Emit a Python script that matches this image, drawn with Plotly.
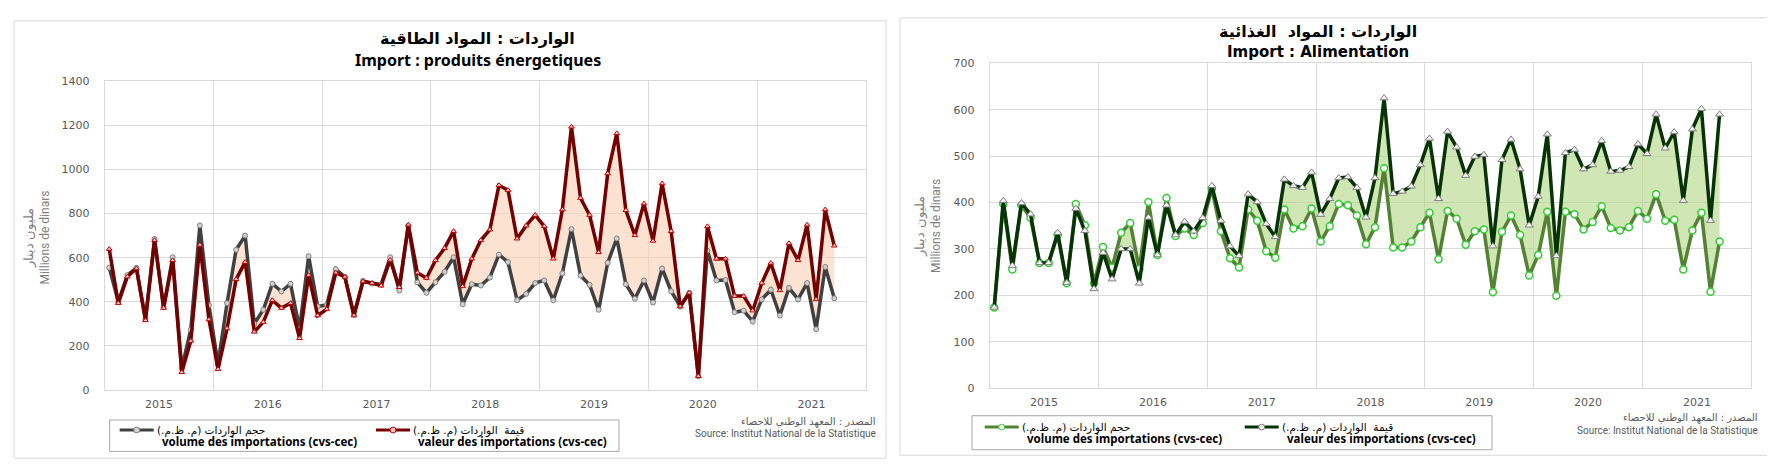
import plotly.graph_objects as go

W, H = 1775, 464

# ---------------- data ----------------
years = ["2015", "2016", "2017", "2018", "2019", "2020", "2021"]
months = list(range(81))

energy_valeur = [639, 394, 514, 551, 316, 679, 372, 588, 81, 223, 658, 320, 95, 279, 502, 580,
                 264, 308, 407, 372, 394, 235, 521, 338, 367, 532, 513, 338, 492, 485, 473, 590,
                 466, 749, 532, 508, 588, 643, 720, 470, 595, 679, 727, 928, 906, 686, 745, 793,
                 742, 595, 818, 1193, 870, 793, 624, 981, 1163, 815, 701, 845, 676, 936, 720, 379,
                 441, 63, 742, 595, 595, 426, 426, 360, 485, 576, 452, 665, 588, 749, 411, 818, 654]
energy_volume = [555, 400, 521, 554, 323, 685, 375, 602, 100, 275, 746, 385, 118, 394, 636, 700,
                 301, 364, 482, 447, 482, 279, 607, 379, 386, 548, 513, 341, 495, 483, 480, 602,
                 451, 745, 488, 441, 489, 536, 602, 389, 480, 474, 510, 614, 580, 408, 436, 485,
                 497, 407, 529, 730, 519, 477, 364, 577, 687, 480, 414, 497, 397, 551, 448, 379,
                 441, 63, 632, 497, 499, 353, 360, 311, 411, 455, 338, 463, 411, 485, 276, 558, 416]
food_valeur = [174, 404, 264, 399, 375, 270, 270, 335, 227, 387, 339, 214, 292, 235, 300, 300,
               226, 368, 287, 394, 330, 359, 338, 367, 436, 361, 306, 285, 418, 401, 354, 326,
               450, 436, 432, 465, 374, 408, 453, 455, 432, 368, 453, 625, 419, 424, 435, 481,
               538, 408, 553, 519, 458, 499, 503, 306, 492, 536, 472, 351, 413, 547, 285, 507,
               514, 472, 481, 533, 467, 469, 477, 526, 505, 590, 517, 552, 404, 558, 602, 361, 590]
food_volume = [174, 397, 256, 394, 367, 270, 270, 330, 226, 397, 351, 226, 304, 260, 335, 356,
               257, 401, 287, 410, 328, 344, 330, 356, 429, 338, 280, 260, 385, 361, 295, 281,
               385, 344, 349, 387, 316, 349, 397, 394, 372, 310, 347, 474, 303, 303, 316, 347,
               378, 278, 382, 365, 309, 338, 342, 207, 337, 372, 330, 243, 287, 380, 199, 380,
               375, 342, 358, 392, 345, 340, 347, 382, 365, 418, 361, 363, 256, 340, 378, 208, 316]

title_energy_ar = "الواردات : المواد الطاقية"
title_energy_fr = "Import : produits énergetiques"
title_food_ar = "الواردات : المواد  الغذائية"
title_food_fr = "Import : Alimentation"
lbl_volume_ar = "حجم الواردات (م. ظ.م.)"
lbl_valeur_ar = "قيمة  الواردات (م. ظ.م.)"
lbl_volume_fr = "volume des importations (cvs-cec)"
lbl_valeur_fr = "valeur des importations (cvs-cec)"
src_ar = "المصدر : المعهد الوطني للاحصاء"
src_fr = "Source: Institut National de la Statistique"
ylab_ar = "مليون دينار"
ylab_fr = "Millions de dinars"

RLM = "\u200f"


def px(x):
    return x / W


def py(y):
    return 1 - y / H


GRID = "#d9d9d9"
TICKFONT = dict(family="DejaVu Sans", size=11, color="#595959")

fig = go.Figure()

# Energy panel
fig.add_trace(go.Scatter(x=months, y=energy_volume, mode="lines+markers", xaxis="x", yaxis="y",
                         line=dict(color="#404040", width=3.5),
                         marker=dict(symbol="circle", size=5, color="#d0d0d0",
                                     line=dict(color="#808080", width=1)),
                         showlegend=False))
fig.add_trace(go.Scatter(x=months, y=energy_valeur, mode="lines+markers", xaxis="x", yaxis="y",
                         fill="tonexty", fillcolor="rgba(248,206,178,0.6)",
                         line=dict(color="#750000", width=3.5),
                         marker=dict(symbol="triangle-up", size=5, color="#f4c7c7",
                                     line=dict(color="#c00000", width=1)),
                         showlegend=False))

# Food panel
fig.add_trace(go.Scatter(x=months, y=food_volume, mode="lines+markers", xaxis="x2", yaxis="y2",
                         line=dict(color="#548235", width=3.5),
                         marker=dict(symbol="circle", size=7, color="white",
                                     line=dict(color="#33cc33", width=1.5)),
                         showlegend=False))
fig.add_trace(go.Scatter(x=months, y=food_valeur, mode="lines+markers", xaxis="x2", yaxis="y2",
                         fill="tonexty", fillcolor="rgba(176,214,130,0.6)",
                         line=dict(color="#073307", width=3.5),
                         marker=dict(symbol="triangle-up", size=7, color="#f2f2f2",
                                     line=dict(color="#7f7f7f", width=1)),
                         showlegend=False))

year_centers = [5.5 + 12 * i for i in range(len(years))]


def xaxis_cfg(domain):
    return dict(domain=domain, range=[-0.5, 83.5], tickmode="array", tickvals=year_centers,
                ticktext=years, showgrid=False, zeroline=False, showline=True, mirror=True,
                linecolor=GRID, linewidth=1, tickfont=TICKFONT, ticks="outside", ticklen=4,
                tickcolor="rgba(0,0,0,0)",
                minor=dict(tickmode="linear", tick0=-0.5, dtick=12, showgrid=True,
                           gridcolor=GRID, gridwidth=1, ticks=""))


def yaxis_cfg(domain, rng, dt, anchor):
    return dict(domain=domain, range=rng, dtick=dt, showgrid=True, gridcolor=GRID, gridwidth=1,
                zeroline=False, showline=True, mirror=True, linecolor=GRID, linewidth=1,
                tickfont=TICKFONT, ticks="outside", ticklen=12, tickcolor="rgba(0,0,0,0)",
                anchor=anchor)


fig.update_layout(
    width=W, height=H, margin=dict(l=0, r=0, t=0, b=0),
    paper_bgcolor="white", plot_bgcolor="white",
    xaxis=dict(xaxis_cfg([px(96.7), px(858)]), anchor="y"),
    yaxis=yaxis_cfg([py(387), py(69)], [0, 1400], 200, "x"),
    xaxis2=dict(xaxis_cfg([px(981.7), px(1743.3)]), anchor="y2"),
    yaxis2=yaxis_cfg([py(385), py(50.7)], [0, 700], 100, "x2"),
)

shapes = []
annots = []

# Panel frames
shapes.append(dict(type="rect", xref="paper", yref="paper", x0=px(6), x1=px(878), y0=py(457), y1=py(7),
                   line=dict(color="#d9d9d9", width=1)))
shapes.append(dict(type="rect", xref="paper", yref="paper", x0=px(892), x1=px(1765), y0=py(454), y1=py(4),
                   line=dict(color="#d9d9d9", width=1)))


def text(x, y, s, size, family, color="#000000", bold=False, xanchor="center", angle=0):
    if bold:
        s = "<b>" + s + "</b>"
    annots.append(dict(xref="paper", yref="paper", x=px(x), y=py(y), text=s, showarrow=False,
                       xanchor=xanchor, yanchor="middle", textangle=angle,
                       font=dict(size=size, family=family, color=color)))


# Titles
text(470, 25, title_energy_ar + RLM, 16, "DejaVu Sans", bold=True)
text(470, 47, title_energy_fr, 16, "Noto Sans", bold=True)
text(1310, 18, title_food_ar + RLM, 16, "DejaVu Sans", bold=True)
text(1310, 39, title_food_fr, 15, "DejaVu Sans", bold=True)

# Y-axis titles
for xc, yc in ((29, 230), (920, 218)):
    annots.append(dict(xref="paper", yref="paper", x=px(xc), y=py(yc), showarrow=False, textangle=-90,
                       text="<span style='font-size:13px'>" + ylab_ar + RLM + "</span><br>" + ylab_fr,
                       xanchor="center", yanchor="middle",
                       font=dict(size=12, family="Liberation Sans Narrow, Roboto", color="#7f7f7f")))


def legend_entry(x0, y_line, color, mcolor, medge, ar, fr, fr_dx):
    shapes.append(dict(type="line", xref="paper", yref="paper", x0=px(x0), x1=px(x0 + 34),
                       y0=py(y_line), y1=py(y_line), line=dict(color=color, width=3)))
    shapes.append(dict(type="circle", xref="paper", yref="paper", x0=px(x0 + 14), x1=px(x0 + 20),
                       y0=py(y_line + 3), y1=py(y_line - 3), fillcolor=mcolor,
                       line=dict(color=medge, width=1)))
    text(x0 + 35, y_line, ar + RLM, 10.5, "DejaVu Sans", xanchor="left")
    text(x0 + 35 + fr_dx, y_line + 11.5, fr, 11.5, "Noto Sans", bold=True, xanchor="left")


# Energy legend
shapes.append(dict(type="rect", xref="paper", yref="paper", x0=px(101.7), x1=px(611), y0=py(450),
                   y1=py(417.7), line=dict(color="#a6a6a6", width=1)))
legend_entry(111.7, 428, "#404040", "#d0d0d0", "#808080", lbl_volume_ar, lbl_volume_fr, 5)
legend_entry(368, 428, "#750000", "#f4c7c7", "#c00000", lbl_valeur_ar, lbl_valeur_fr, 5)

# Food legend
shapes.append(dict(type="rect", xref="paper", yref="paper", x0=px(964), x1=px(1484), y0=py(448.3),
                   y1=py(413.3), line=dict(color="#a6a6a6", width=1)))
legend_entry(976.7, 425, "#548235", "white", "#33cc33", lbl_volume_ar, lbl_volume_fr, 5)
legend_entry(1236.7, 425, "#073307", "#f2f2f2", "#7f7f7f", lbl_valeur_ar, lbl_valeur_fr, 5)

# Sources
text(870, 420, src_ar + RLM, 10, "DejaVu Sans", color="#595959", xanchor="right")
text(870, 432, src_fr, 10, "Roboto", color="#595959", xanchor="right")
text(1752, 416, src_ar + RLM, 10, "DejaVu Sans", color="#595959", xanchor="right")
text(1752, 428, src_fr, 10, "Roboto", color="#595959", xanchor="right")

fig.update_layout(shapes=shapes, annotations=annots)
fig.write_html("out.html")
